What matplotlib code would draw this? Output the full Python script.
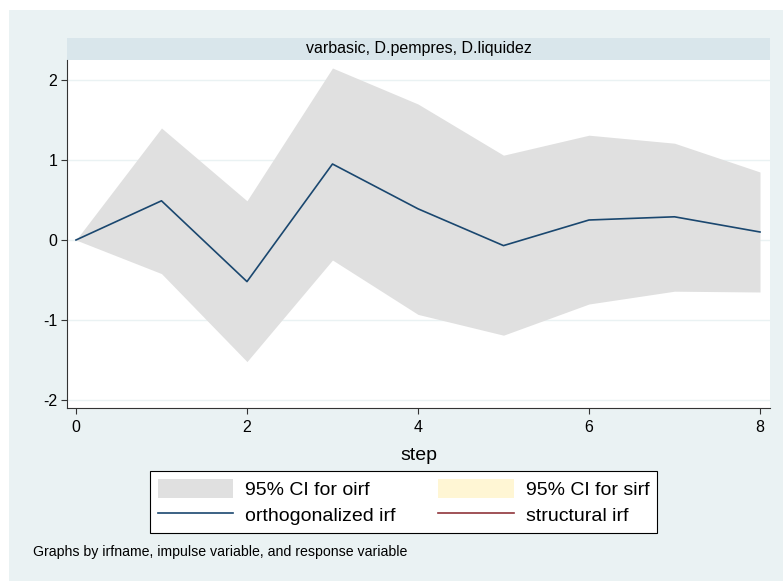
import numpy as np
import matplotlib
matplotlib.use("Agg")
import matplotlib.pyplot as plt
from matplotlib.patches import Rectangle, Patch
from matplotlib.lines import Line2D

plt.rcParams['font.family'] = ['Liberation Sans', 'DejaVu Sans']

# impulse-response data
steps = [0, 1, 2, 3, 4, 5, 6, 7, 8]
oirf = [0.0, 0.49, -0.52, 0.95, 0.39, -0.07, 0.25, 0.29, 0.10]
ci_upper = [0.0, 1.40, 0.49, 2.15, 1.70, 1.06, 1.31, 1.21, 0.85]
ci_lower = [0.0, -0.42, -1.52, -0.25, -0.93, -1.19, -0.80, -0.64, -0.65]

xticks = [0, 2, 4, 6, 8]
yticks = [-2, -1, 0, 1, 2]

panel_title = "varbasic, D.pempres, D.liquidez"
legend_labels = ["95% CI for oirf", "95% CI for sirf",
                 "orthogonalized irf", "structural irf"]
note = "Graphs by irfname, impulse variable, and response variable"

BG = "#eaf2f3"
STRIP = "#d9e6eb"
CI_GRAY = "#e0e0e0"
CI_YELLOW = "#fff6d4"
NAVY = "#1a476f"
MAROON = "#90353b"

W, H = 783, 581
fig = plt.figure(figsize=(W / 100, H / 100), dpi=100)
fig.patch.set_facecolor("white")


def px(x0, y0, x1, y1):
    """pixel box (top-left origin) -> figure fraction [l, b, w, h]"""
    return [x0 / W, 1 - y1 / H, (x1 - x0) / W, (y1 - y0) / H]


l, b, w, h = px(9, 10, 783, 581)
fig.patches.append(Rectangle((l, b), w, h, transform=fig.transFigure,
                             facecolor=BG, edgecolor="none", zorder=-2))

# strip title above the plot region
l, b, w, h = px(67, 38, 770, 60)
fig.patches.append(Rectangle((l, b), w, h, transform=fig.transFigure,
                             facecolor=STRIP, edgecolor="none", zorder=-1))
fig.text(l + w / 2, b + h / 2, panel_title, ha="center", va="center",
         fontsize=11.5, color="black")

ax = fig.add_axes(px(67, 60, 770, 408))
ax.set_zorder(2)
ax.set_facecolor("white")

ax.fill_between(steps, ci_lower, ci_upper, color=CI_GRAY, lw=0, zorder=2)
ax.plot(steps, oirf, color=NAVY, lw=1.2, zorder=3)

ax.set_xlim(-0.105, 8.117)
ax.set_ylim(-2.1, 2.25)
ax.set_xticks(xticks)
ax.set_yticks(yticks)
ax.set_yticklabels([str(v) for v in yticks])
ax.grid(axis="y", color=BG, lw=1.0, zorder=1)
ax.set_axisbelow(True)

for s in ["top", "right"]:
    ax.spines[s].set_visible(False)
for s in ["left", "bottom"]:
    ax.spines[s].set_color("#333333")
    ax.spines[s].set_linewidth(0.8)
ax.tick_params(direction="out", length=4, width=0.8, color="#333333",
               labelsize=11.5)
ax.tick_params(axis="x", pad=5)
ax.tick_params(axis="y", pad=3)

ax.set_xlabel("step", fontsize=14, labelpad=8)

# column-major order so rows read: CI oirf | CI sirf, oirf | sirf
handles = [Patch(facecolor=CI_GRAY, edgecolor="none"),
           Line2D([], [], color=NAVY, lw=1.2),
           Patch(facecolor=CI_YELLOW, edgecolor="none"),
           Line2D([], [], color=MAROON, lw=1.2)]
labels = [legend_labels[0], legend_labels[2], legend_labels[1], legend_labels[3]]
l, b, w, h = px(151, 469, 656, 535)
leg = fig.legend(handles, labels, ncol=2, loc="center",
                 bbox_to_anchor=(l + w / 2, b + h / 2),
                 fontsize=14, frameon=True, fancybox=False,
                 handlelength=3.9, handleheight=1.1, handletextpad=0.6,
                 columnspacing=2.2, labelspacing=0.3, borderpad=0.4)
leg.get_frame().set_edgecolor("black")
leg.get_frame().set_linewidth(0.8)
leg.get_frame().set_facecolor("white")
leg.get_frame().set_alpha(1)

fig.text(33 / W, 1 - 552 / H, note, ha="left", va="center", fontsize=10.2)

fig.savefig("out.png", dpi=100)
